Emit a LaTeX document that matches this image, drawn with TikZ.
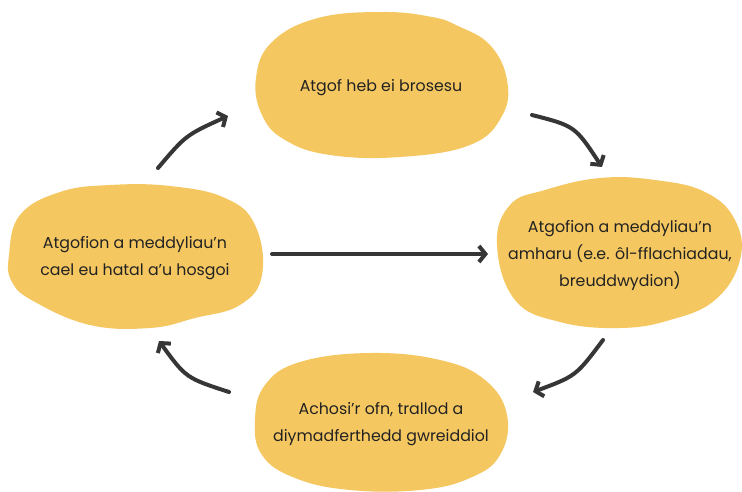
\documentclass[tikz,border=0pt]{standalone}
\usepackage{fontspec}
\setmainfont{Poppins}
\usetikzlibrary{arrows.meta}
\definecolor{blobfill}{HTML}{F5C761}
\definecolor{ink}{HTML}{222222}
\definecolor{arrowink}{HTML}{363636}
\tikzset{
  blob/.style={fill=blobfill, draw=none},
  label/.style={text=ink, align=center, font=\fontsize{15.8}{27}\selectfont},
  flow/.style={draw=arrowink, line width=4pt, line cap=round,
    -{Straight Barb[length=6.5pt,width=16pt,line width=4pt]}},
}
\begin{document}
\begin{tikzpicture}[x=1pt,y=-1pt]
\useasboundingbox (0,0) rectangle (742,492);

% blob outlines
\fill[blob] plot[smooth cycle, tension=0.7] coordinates {
  (256,78) (272,42) (318,18) (383,12) (432,17) (458,26) (490,45) (507,80)
  (502,116) (470,145) (400,157) (330,155) (285,140) (262,115)};
\fill[blob] plot[smooth cycle, tension=0.7] coordinates {
  (9,255) (20,215) (60,192) (110,185) (170,186) (225,198) (255,225)
  (262,275) (240,305) (195,318) (150,328) (90,325) (35,302) (12,282)};
\fill[blob] plot[smooth cycle, tension=0.7] coordinates {
  (497,245) (510,205) (545,190) (600,178) (655,180) (705,192) (735,220)
  (740,260) (715,300) (670,320) (620,328) (560,322) (515,300)};
\fill[blob] plot[smooth cycle, tension=0.7] coordinates {
  (255,420) (265,385) (300,362) (370,353) (440,360) (485,380) (507,415)
  (500,455) (470,478) (420,490) (350,490) (295,478) (262,455)};

% texts
\node[label] (unproc) at (381,88) {Atgof heb ei brosesu};
\node[label] (avoid) at (135,258) {Atgofion a meddyliau’n\\cael eu hatal a’u hosgoi};
\node[label] (intrude) at (620,256) {Atgofion a meddyliau’n\\amharu (e.e. ôl-fflachiadau,\\breuddwydion)};
\node[label] (fear) at (381,424) {Achosi’r ofn, trallod a\\diymadferthedd gwreiddiol};

% arrow ends
\coordinate (tlA) at (158,168); \coordinate (tlB) at (228,116);
\coordinate (trA) at (532,115); \coordinate (trB) at (602,167);
\coordinate (brA) at (603,340); \coordinate (brB) at (533,392);
\coordinate (blA) at (229,392); \coordinate (blB) at (159,341);
\coordinate (midA) at (272,254); \coordinate (midB) at (488,254);

% connectors
\draw[flow] (tlA) .. controls (186,135) .. (tlB);
\draw[flow] (trA) .. controls (575,126) .. (trB);
\draw[flow] (brA) .. controls (576,376) .. (brB);
\draw[flow] (blA) .. controls (186,378) .. (blB);
\draw[flow] (midA) -- (midB);
\end{tikzpicture}
\end{document}
